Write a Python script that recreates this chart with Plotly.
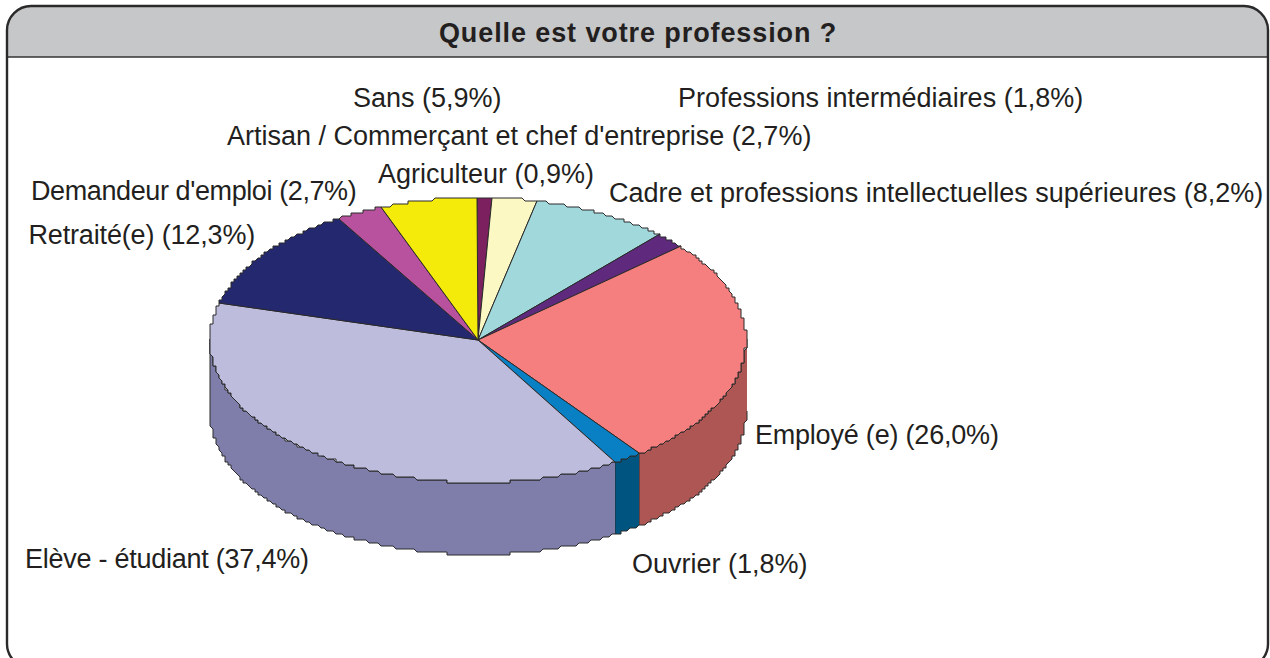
import math
import plotly.graph_objects as go

TITLE = "Quelle est votre profession ?"
categories = ["Agriculteur", "Artisan / Commerçant et chef d'entreprise",
              "Cadre et professions intellectuelles supérieures",
              "Professions intermédiaires", "Employé (e)", "Ouvrier",
              "Elève - étudiant", "Retraité(e)", "Demandeur d'emploi", "Sans"]
values = [0.9, 2.7, 8.2, 1.8, 26.0, 1.8, 37.4, 12.3, 2.7, 5.9]
top_colors = ["#7D2060", "#FBF8C3", "#A0D8DC", "#5F2A7E", "#F57E7E",
              "#0A80C4", "#BEBCDD", "#24286F", "#B8529E", "#F5EB0A"]
side_colors = ["#5A1545", "#B5B28C", "#74A0A3", "#43205A", "#AD5654",
               "#005480", "#7F7EAB", "#18194F", "#853B72", "#B0A907"]
label_pos = [(378, 174), (227, 136), (609, 193), (678, 98), (753, 435),
             (632, 564), (22, 559), (27, 235), (26, 191), (353, 98)]
label_tracking = [0, 0, 0, 0, -0.2, 0, -0.25, -0.15, -0.4, 0]

CX, CY, RX, RY, DEPTH = 478, 340, 268, 142.5, 72
GRID = 3
EDGE = "#2a2a2a"
FONT = "Liberation Sans"
W, H = 1270, 658


def pt(deg, dy=0):
    a = math.radians(deg)
    x = CX + RX * math.sin(a)
    y = CY - RY * math.cos(a)
    # the reference outline is coarsely stepped
    return round(x / GRID) * GRID, round(y / GRID) * GRID + dy


def arc(a0, a1, dy=0):
    n = max(2, int(abs(a1 - a0) / 0.5) + 1)
    return [pt(a0 + (a1 - a0) * i / n, dy) for i in range(n + 1)]


def poly(points, fill, name):
    return go.Scatter(x=[p[0] for p in points], y=[p[1] for p in points], mode="lines",
                      fill="toself", fillcolor=fill, name=name, hoverinfo="name",
                      line=dict(color=EDGE, width=1), showlegend=False)


total = sum(values)
scale = 360 / total
spans, acc = [], 0
for v in values:
    spans.append((acc * scale, (acc + v) * scale))
    acc += v

fig = go.Figure()
for (a0, a1), col, name in zip(spans, side_colors, categories):
    lo, hi = max(a0, 90), min(a1, 270)
    if lo < hi:
        fig.add_trace(poly(arc(lo, hi) + arc(hi, lo, DEPTH), col, name))
for (a0, a1), col, name in zip(spans, top_colors, categories):
    fig.add_trace(poly([(CX, CY)] + arc(a0, a1) + [(CX, CY)], col, name))

annotations = [dict(x=638, y=33, text=f"<b>{TITLE}</b>", showarrow=False, xanchor="center",
                    yanchor="middle", font=dict(family=FONT, size=27, color="#231f20"))]
for name, v, (lx, ly) in zip(categories, values, label_pos):
    txt = f"{name} ({v:.1f}%)".replace(".", ",")
    annotations.append(dict(x=lx, y=ly, text=txt, showarrow=False, xanchor="left", yanchor="middle",
                            xshift=-2, font=dict(family=FONT, size=27, color="#231f20")))

L, T, R, B, HB, RAD, K = 7, 6, 1268, 668, 57, 24, 11
header = (f"M {L} {HB} L {L} {T+RAD} C {L} {T+K} {L+K} {T} {L+RAD} {T} L {R-RAD} {T} "
          f"C {R-K} {T} {R} {T+K} {R} {T+RAD} L {R} {HB} Z")
frame = (f"M {L} {T+RAD} C {L} {T+K} {L+K} {T} {L+RAD} {T} L {R-RAD} {T} C {R-K} {T} {R} {T+K} {R} {T+RAD} "
         f"L {R} {B-RAD} C {R} {B-K} {R-K} {B} {R-RAD} {B} L {L+RAD} {B} C {L+K} {B} {L} {B-K} {L} {B-RAD} Z")
shapes = [dict(type="path", path=header, xref="x", yref="y", fillcolor="#C6C7C9",
               line=dict(width=0), layer="below"),
          dict(type="line", x0=L, x1=R, y0=HB, y1=HB, xref="x", yref="y",
               line=dict(color="#333333", width=1.5), layer="below"),
          dict(type="path", path=frame, xref="x", yref="y", line=dict(color="#2a2a2a", width=2.4),
               layer="below")]

fig.update_layout(width=W, height=H, margin=dict(l=0, r=0, t=0, b=0), paper_bgcolor="white",
                  plot_bgcolor="white", annotations=annotations, shapes=shapes,
                  xaxis=dict(range=[0, W], visible=False, fixedrange=True),
                  yaxis=dict(range=[H, 0], visible=False, fixedrange=True))
tracking_js = "[0.9," + ",".join(str(t) for t in label_tracking) + "]"
fig.write_html("out.html", config=dict(displayModeBar=False),
               post_script="document.body.style.margin='0';document.body.style.overflow='hidden';"
                           f"{tracking_js}.forEach(function(s,i){{"
                           "var t=document.querySelector('.annotation[data-index=\"'+i+'\"] text');"
                           "if(t&&s){t.style.letterSpacing=s+'px';}});")
